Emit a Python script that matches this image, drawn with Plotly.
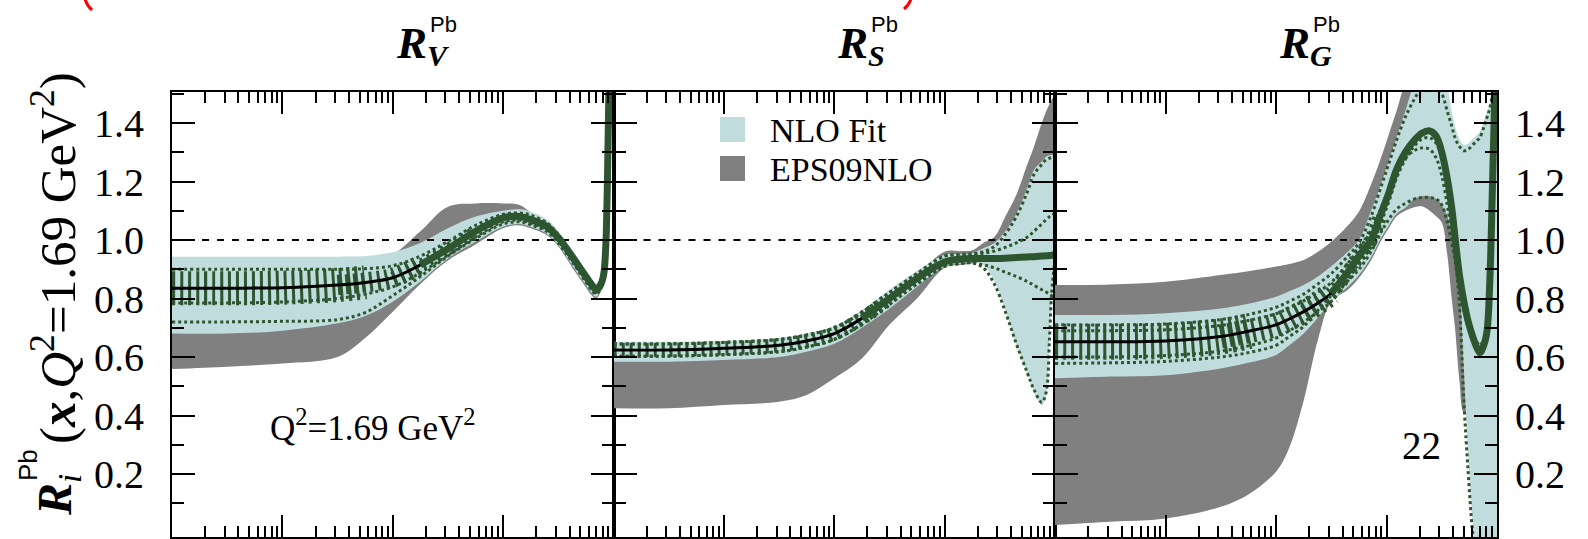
import plotly.graph_objects as go

# ---------------- data: log10(x) grids and nuclear modification ratios ----------------
# valence  R_V
V_lx = [-4, -3.5, -3, -2.5, -2.25, -2, -1.75, -1.5, -1.25, -1.0, -0.85, -0.75, -0.6, -0.5,
        -0.35, -0.25, -0.2, -0.16, -0.12, -0.09, -0.07, -0.055, -0.04, 0]
V_cen = [0.835, 0.835, 0.837, 0.846, 0.855, 0.871, 0.915, 0.970, 1.030, 1.076, 1.080, 1.070, 1.045, 1.008,
         0.930, 0.875, 0.848, 0.830, 0.845, 0.880, 0.980, 1.200, 1.550, 2.200]
V_tu = [0.943, 0.943, 0.943, 0.943, 0.945, 0.958, 0.990, 1.040, 1.080, 1.100, 1.105, 1.097, 1.070, 1.030,
        0.955, 0.895, 0.872, 0.852, 0.865, 0.905, 1.010, 1.250, 1.600, 2.250]
V_tl = [0.680, 0.680, 0.690, 0.715, 0.740, 0.789, 0.858, 0.937, 0.994, 1.045, 1.055, 1.045, 1.020, 0.983,
        0.900, 0.845, 0.820, 0.806, 0.825, 0.855, 0.950, 1.150, 1.500, 2.150]
V_gu = [0.900, 0.900, 0.900, 0.905, 0.915, 0.950, 1.030, 1.114, 1.125, 1.125, 1.120, 1.095, 1.060, 1.020,
        0.940, 0.880, 0.860, 0.840, 0.855, 0.890, 0.990, 1.220, 1.570, 2.200]
V_gl = [0.559, 0.567, 0.578, 0.600, 0.665, 0.755, 0.850, 0.930, 0.985, 1.040, 1.050, 1.040, 1.015, 0.978,
        0.892, 0.838, 0.812, 0.800, 0.820, 0.850, 0.945, 1.140, 1.490, 2.140]
V_e1 = [0.900, 0.900, 0.900, 0.900, 0.902, 0.912, 0.945, 0.995, 1.050, 1.088, 1.092, 1.085, 1.058, 1.018,
        0.940, 0.884, 0.858, 0.840, 0.855, 0.893, 0.995, 1.225, 1.575, 2.225]
V_e2 = [0.785, 0.785, 0.788, 0.800, 0.815, 0.840, 0.888, 0.948, 1.010, 1.062, 1.068, 1.058, 1.033, 0.997,
        0.918, 0.864, 0.838, 0.820, 0.835, 0.868, 0.965, 1.175, 1.525, 2.175]
V_e3 = [0.720, 0.720, 0.722, 0.728, 0.752, 0.810, 0.875, 0.945, 1.005, 1.055, 1.062, 1.052, 1.028, 0.990,
        0.912, 0.856, 0.830, 0.815, 0.830, 0.862, 0.960, 1.170, 1.520, 2.170]

# sea quarks  R_S
S_lx = [-4, -3.5, -3, -2.5, -2.25, -2, -1.75, -1.5, -1.25, -1.0, -0.85, -0.75, -0.65, -0.55,
        -0.45, -0.35, -0.25, -0.19, -0.12, -0.08, -0.05, -0.03, 0]
S_cen = [0.624, 0.624, 0.630, 0.640, 0.655, 0.680, 0.732, 0.800, 0.869, 0.925, 0.935, 0.937, 0.937, 0.937,
         0.938, 0.940, 0.942, 0.943, 0.945, 0.946, 0.947, 0.948, 0.950]
S_tu = [0.652, 0.652, 0.655, 0.665, 0.680, 0.705, 0.760, 0.830, 0.895, 0.950, 0.952, 0.955, 0.972, 0.990,
        1.030, 1.090, 1.180, 1.240, 1.268, 1.285, 1.290, 1.290, 1.290]
S_tl = [0.584, 0.584, 0.590, 0.600, 0.618, 0.645, 0.700, 0.765, 0.840, 0.910, 0.920, 0.925, 0.915, 0.860,
        0.760, 0.640, 0.540, 0.480, 0.436, 0.470, 0.650, 0.800, 0.900]
S_gu = [0.620, 0.620, 0.625, 0.635, 0.650, 0.690, 0.740, 0.810, 0.880, 0.960, 0.962, 0.965, 0.990, 1.010,
        1.080, 1.155, 1.260, 1.320, 1.400, 1.440, 1.465, 1.480, 1.500]
S_gl = [0.425, 0.425, 0.436, 0.447, 0.470, 0.527, 0.595, 0.710, 0.800, 0.905, 0.915, 0.920, 0.930, 0.960,
        1.000, 1.060, 1.120, 1.160, 1.220, 1.260, 1.280, 1.285, 1.290]
S_e1 = [0.645, 0.645, 0.650, 0.660, 0.675, 0.700, 0.752, 0.820, 0.885, 0.945, 0.950, 0.952, 0.960, 0.978,
        1.020, 1.080, 1.165, 1.225, 1.258, 1.275, 1.280, 1.282, 1.285]
S_e2 = [0.603, 0.603, 0.608, 0.618, 0.634, 0.660, 0.712, 0.780, 0.850, 0.910, 0.920, 0.922, 0.915, 0.905,
        0.890, 0.875, 0.858, 0.845, 0.830, 0.822, 0.815, 0.810, 0.805]
S_e3 = [0.603, 0.603, 0.608, 0.618, 0.634, 0.660, 0.712, 0.780, 0.850, 0.910, 0.920, 0.922, 0.905, 0.850,
        0.755, 0.645, 0.545, 0.488, 0.445, 0.480, 0.660, 0.820, 0.930]
S_e4 = [0.645, 0.645, 0.650, 0.660, 0.675, 0.700, 0.752, 0.820, 0.885, 0.945, 0.950, 0.952, 0.955, 0.962,
        0.975, 0.990, 1.010, 1.030, 1.055, 1.070, 1.080, 1.085, 1.090]

# gluons  R_G
G_lx = [-4, -3.5, -3, -2.5, -2.25, -2, -1.88, -1.75, -1.62, -1.5, -1.35, -1.25, -1.14, -1.06, -0.98,
        -0.91, -0.83, -0.75, -0.68, -0.61, -0.55, -0.5, -0.45, -0.41, -0.38, -0.34, -0.3, -0.26,
        -0.22, -0.18, -0.155, -0.12, -0.09, -0.065, -0.04, 0]
G_cen = [0.652, 0.652, 0.655, 0.670, 0.688, 0.710, 0.730, 0.755, 0.785, 0.818, 0.890, 0.945, 1.000, 1.080,
         1.160, 1.240, 1.300, 1.340, 1.365, 1.373, 1.355, 1.300, 1.210, 1.110, 1.010, 0.880, 0.790, 0.720,
         0.670, 0.630, 0.615, 0.640, 0.690, 0.860, 1.200, 1.800]
G_tu = [0.744, 0.744, 0.750, 0.766, 0.782, 0.806, 0.825, 0.846, 0.875, 0.910, 0.960, 1.000, 1.100, 1.180,
        1.270, 1.350, 1.440, 1.530, 1.560, 1.560, 1.560, 1.560, 1.520, 1.440, 1.390, 1.345, 1.325, 1.330,
        1.345, 1.360, 1.370, 1.405, 1.440, 1.470, 1.550, 1.600]
G_tl = [0.527, 0.533, 0.538, 0.561, 0.580, 0.607, 0.640, 0.680, 0.735, 0.790, 0.840, 0.880, 0.940, 1.000,
        1.050, 1.090, 1.110, 1.140, 1.150, 1.150, 1.140, 1.120, 1.080, 1.020, 0.970, 0.850, 0.550, 0.250,
        0.030, -0.100, -0.100, -0.100, -0.100, -0.100, -0.100, -0.100]
G_gu = [0.846, 0.848, 0.857, 0.880, 0.893, 0.909, 0.918, 0.932, 0.960, 0.994, 1.050, 1.097, 1.190, 1.270,
        1.360, 1.440, 1.530, 1.560, 1.550, 1.500, 1.450, 1.400, 1.300, 1.200, 1.100, 1.000, 0.900, 0.800,
        0.700, 0.650, 0.600, 0.600, 0.600, 0.600, 0.600, 0.600]
G_gl = [0.026, 0.037, 0.048, 0.088, 0.130, 0.208, 0.290, 0.450, 0.660, 0.790, 0.830, 0.870, 0.930, 0.990,
        1.040, 1.080, 1.100, 1.112, 1.115, 1.100, 1.080, 1.060, 0.950, 0.800, 0.700, 0.520, 0.410, 0.410,
        0.410, 0.410, 0.410, 0.410, 0.410, 0.410, 0.410, 0.410]
G_e1 = [0.710, 0.710, 0.713, 0.728, 0.745, 0.770, 0.790, 0.815, 0.850, 0.885, 0.945, 0.990, 1.080, 1.170,
        1.260, 1.340, 1.420, 1.480, 1.520, 1.530, 1.520, 1.500, 1.440, 1.390, 1.350, 1.320, 1.305, 1.310,
        1.325, 1.340, 1.350, 1.385, 1.420, 1.450, 1.500, 1.550]
G_e2 = [0.690, 0.690, 0.693, 0.708, 0.725, 0.748, 0.768, 0.792, 0.822, 0.855, 0.920, 0.970, 1.030, 1.100,
        1.170, 1.230, 1.280, 1.305, 1.315, 1.310, 1.280, 1.220, 1.120, 1.020, 0.950, 0.850, 0.780, 0.720,
        0.680, 0.650, 0.640, 0.660, 0.720, 0.900, 1.250, 1.700]
G_e3 = [0.578, 0.580, 0.585, 0.600, 0.615, 0.640, 0.670, 0.705, 0.760, 0.810, 0.860, 0.900, 0.960, 1.020,
        1.070, 1.105, 1.125, 1.140, 1.145, 1.145, 1.140, 1.120, 1.060, 0.990, 0.930, 0.780, 0.450, 0.200,
        0.000, -0.100, -0.100, -0.100, -0.100, -0.100, -0.100, -0.100]
G_e4 = [0.600, 0.600, 0.605, 0.620, 0.638, 0.665, 0.690, 0.720, 0.755, 0.790, 0.865, 0.920, 0.975, 1.050,
        1.130, 1.210, 1.275, 1.320, 1.345, 1.350, 1.330, 1.280, 1.200, 1.100, 1.000, 0.870, 0.780, 0.715,
        0.665, 0.625, 0.605, 0.625, 0.670, 0.830, 1.150, 1.750]

panel_titles = [("R", "V"), ("R", "S"), ("R", "G")]
y_ticks = [0.2, 0.4, 0.6, 0.8, 1.0, 1.2, 1.4]
y_minor = [0.1, 0.3, 0.5, 0.7, 0.9, 1.1, 1.3, 1.5]
x_major = [1e-4, 1e-3, 1e-2, 1e-1, 1.0]
legend_names = ["NLO Fit", "EPS09NLO"]

# ---------------- styling ----------------
TEAL = "rgb(192,220,220)"
GRAY = "rgb(128,128,128)"
GREEN = "rgb(45,85,48)"
SERIF = "Liberation Serif"
SANS = "Liberation Sans"

W, H = 1588, 539
X_PIX = [(172, 613.5), (613.5, 1055), (1055, 1497)]
Y_PIX = (92, 537)
Y_RANGE = [-0.0154, 1.506]


def fx(p):
    return p / W


def fy(p):
    return 1 - p / H


def to_x(lx):
    return [10.0 ** v for v in lx]


def part(lx, vals, lo, hi):
    keep = [i for i, v in enumerate(lx) if lo <= v <= hi]
    return [10.0 ** lx[i] for i in keep], [vals[i] for i in keep]


panels = [
    dict(lx=V_lx, cen=V_cen, tu=V_tu, tl=V_tl, gu=V_gu, gl=V_gl, errs=[V_e1, V_e2, V_e3],
         hatch=[(-4, -2.25, 34), (-2.5, -1.75, 20), (-2.0, -1.25, 12)], thick_from=-1.75),
    dict(lx=S_lx, cen=S_cen, tu=S_tu, tl=S_tl, gu=S_gu, gl=S_gl, errs=[S_e1, S_e2, S_e3, S_e4],
         hatch=[(-4, -1.5, 14)], thick_from=-1.75),
    dict(lx=G_lx, cen=G_cen, tu=G_tu, tl=G_tl, gu=G_gu, gl=G_gl, errs=[G_e1, G_e2, G_e3, G_e4],
         hatch=[(-4, -2.25, 36), (-2.5, -1.5, 24), (-1.75, -1.06, 14)], thick_from=-1.5),
]

fig = go.Figure()

for k, p in enumerate(panels):
    ax = "" if k == 0 else str(k + 1)
    xa, ya = "x" + ax, "y" + ax
    xs = to_x(p["lx"])
    common = dict(xaxis=xa, yaxis=ya, showlegend=False, hoverinfo="skip")

    # EPS09NLO band
    fig.add_trace(go.Scatter(x=xs, y=p["gl"], mode="lines", line=dict(width=0, shape="spline"), **common))
    fig.add_trace(go.Scatter(x=xs, y=p["gu"], mode="lines", line=dict(width=0, shape="spline"),
                             fill="tonexty", fillcolor=GRAY, **common))
    # NLO fit band
    fig.add_trace(go.Scatter(x=xs, y=p["tl"], mode="lines", line=dict(width=0, shape="spline"), **common))
    fig.add_trace(go.Scatter(x=xs, y=p["tu"], mode="lines", line=dict(width=0, shape="spline"),
                             fill="tonexty", fillcolor=TEAL, **common))
    # R = 1 reference
    fig.add_trace(go.Scatter(x=[xs[0], xs[-1]], y=[1.0, 1.0], mode="lines",
                             line=dict(color="black", width=2, dash="7px,8px"), **common))
    # spread of the error sets at small x (hatched)
    for lo, hi, wpx in p["hatch"]:
        hx, hy = part(p["lx"], p["cen"], lo, hi)
        fig.add_trace(go.Scatter(x=hx, y=hy, mode="lines",
                                 line=dict(color=GREEN, width=wpx, dash="3px,5px", shape="spline"), **common))
    # central fit
    fig.add_trace(go.Scatter(x=xs, y=p["cen"], mode="lines",
                             line=dict(color="black", width=3, shape="spline"), **common))
    tx, ty = part(p["lx"], p["cen"], p["thick_from"], 0)
    fig.add_trace(go.Scatter(x=tx, y=ty, mode="lines",
                             line=dict(color=GREEN, width=7, shape="spline"), **common))
    # individual error sets
    for e in p["errs"]:
        fig.add_trace(go.Scatter(x=xs, y=e, mode="lines",
                                 line=dict(color=GREEN, width=3, dash="3px,3px", shape="spline"), **common))

axis_line = dict(showline=True, linecolor="black", linewidth=2, mirror="allticks",
                 showgrid=False, zeroline=False, ticks="inside", tickcolor="black", tickwidth=2)
x_minor = [m * 10.0 ** e for e in range(-4, 0) for m in range(2, 10)]

layout = dict(width=W, height=H, margin=dict(l=0, r=0, t=0, b=0),
              paper_bgcolor="white", plot_bgcolor="white", template="none", showlegend=False)
for k in range(3):
    ax = "" if k == 0 else str(k + 1)
    x0, x1 = X_PIX[k]
    layout["xaxis" + ax] = dict(type="log", range=[-4, 0], domain=[fx(x0), fx(x1)], anchor="y" + ax,
                                tickvals=x_major, ticklen=22, showticklabels=False,
                                minor=dict(tickvals=x_minor, ticklen=11, ticks="inside",
                                           tickcolor="black", tickwidth=2),
                                **axis_line)
    ydict = dict(range=Y_RANGE, domain=[fy(Y_PIX[1]), fy(Y_PIX[0])], anchor="x" + ax,
                 tickvals=y_ticks, tickformat=".1f", ticklen=23,
                 minor=dict(tickvals=y_minor, ticklen=12, ticks="inside", tickcolor="black", tickwidth=2),
                 tickfont=dict(family=SERIF, size=40, color="black"),
                 **axis_line)
    if k == 0:
        ydict.update(side="left", ticklabelstandoff=18)
    elif k == 1:
        ydict.update(showticklabels=False)
    else:
        ydict.update(side="right", ticklabelstandoff=8)
    layout["yaxis" + ax] = ydict

fig.update_layout(**layout)

# panel titles  R_i^Pb
for k, (base, sub) in enumerate(panel_titles):
    c = (X_PIX[k][0] + X_PIX[k][1]) / 2
    fig.add_annotation(x=fx(c + 1), y=fy(43), xref="paper", yref="paper", xanchor="left", yanchor="middle",
                       text="<b><i>%s</i></b>" % base, showarrow=False,
                       font=dict(family=SERIF, size=45, color="black"))
    fig.add_annotation(x=fx(c + 32), y=fy(55), xref="paper", yref="paper", xanchor="left", yanchor="middle",
                       text="<b><i>%s</i></b>" % sub, showarrow=False,
                       font=dict(family=SERIF, size=30, color="black"))
    fig.add_annotation(x=fx(c + 35), y=fy(24), xref="paper", yref="paper", xanchor="left", yanchor="middle",
                       text="Pb", showarrow=False, font=dict(family=SANS, size=22, color="black"))

# y-axis title (rotated)
fig.add_annotation(x=fx(58), y=fy(518), xref="paper", yref="paper", xanchor="center", yanchor="bottom",
                   textangle=-90, text="<b><i>R</i></b><sub><i>i</i></sub>", showarrow=False,
                   font=dict(family=SERIF, size=48, color="black"))
fig.add_annotation(x=fx(28), y=fy(465), xref="paper", yref="paper", xanchor="center", yanchor="middle",
                   textangle=-90, text="Pb", showarrow=False, font=dict(family=SANS, size=26, color="black"))
fig.add_annotation(x=fx(54), y=fy(446), xref="paper", yref="paper", xanchor="center", yanchor="bottom",
                   textangle=-90, text="(<b><i>x</i></b>,<i>Q</i><sup>2</sup>=1.69 GeV<sup>2</sup>)",
                   showarrow=False, font=dict(family=SERIF, size=51, color="black"))

# legend
legend_colors = [TEAL, GRAY]
for i, (name, col) in enumerate(zip(legend_names, legend_colors)):
    top = 117 + 39 * i
    fig.add_shape(type="rect", xref="paper", yref="paper", x0=fx(720), x1=fx(745), y0=fy(top + 25), y1=fy(top),
                  fillcolor=col, line=dict(width=0))
    fig.add_annotation(x=fx(768), y=fy(top + 13), xref="paper", yref="paper", xanchor="left", yanchor="middle",
                       text=name, showarrow=False, font=dict(family=SERIF, size=34, color="black"))

# scale label and page number
fig.add_annotation(x=fx(268), y=fy(425), xref="paper", yref="paper", xanchor="left", yanchor="middle",
                   text="Q<sup>2</sup>=1.69 GeV<sup>2</sup>", showarrow=False,
                   font=dict(family=SERIF, size=35, color="black"))
fig.add_annotation(x=fx(1421), y=fy(445), xref="paper", yref="paper", xanchor="center", yanchor="middle",
                   text="22", showarrow=False, font=dict(family=SERIF, size=39, color="black"))

# red marker strokes at the top edge
fig.add_shape(type="path", xref="paper", yref="paper",
              path="M %f %f Q %f %f %f %f" % (fx(85), fy(-1), fx(87), fy(6), fx(92), fy(10)),
              line=dict(color="red", width=3))
fig.add_shape(type="path", xref="paper", yref="paper",
              path="M %f %f Q %f %f %f %f" % (fx(911), fy(-1), fx(909), fy(5), fx(904), fy(9)),
              line=dict(color="red", width=3))

fig.write_html("out.html")
